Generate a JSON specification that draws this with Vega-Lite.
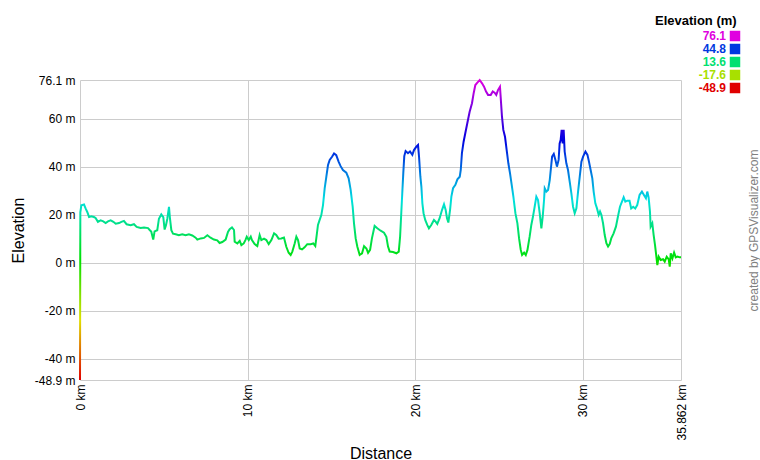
{
  "$schema": "https://vega.github.io/schema/vega-lite/v6.json",
  "width": 601,
  "height": 300,
  "autosize": {"type": "none"},
  "padding": {"left": 80, "top": 80, "right": 79, "bottom": 80},
  "background": "white",
  "config": {"view": {"stroke": null}, "font": "Liberation Sans"},
  "datasets": {
    "profile": [
      {"d":0,"e":-48.9},{"d":0.02,"e":21},{"d":0.08,"e":23.9},{"d":0.24,"e":24.2},{"d":0.34,"e":22.5},{"d":0.44,"e":21},{"d":0.54,"e":19},{"d":0.68,"e":19.3},{"d":0.83,"e":19},{"d":0.93,"e":18.6},
      {"d":1.07,"e":17},{"d":1.23,"e":17.6},{"d":1.39,"e":17.2},{"d":1.53,"e":16.5},{"d":1.67,"e":17.2},{"d":1.83,"e":17.6},{"d":1.99,"e":17},{"d":2.13,"e":16.2},{"d":2.33,"e":16.5},{"d":2.47,"e":17},
      {"d":2.62,"e":17.4},{"d":2.78,"e":16},{"d":3.02,"e":15.6},{"d":3.22,"e":16},{"d":3.38,"e":14.9},{"d":3.62,"e":14.4},{"d":3.82,"e":14.6},{"d":4.06,"e":14.4},{"d":4.17,"e":13.5},{"d":4.25,"e":13},
      {"d":4.37,"e":9.6},{"d":4.45,"e":13},{"d":4.61,"e":13.5},{"d":4.71,"e":18.3},{"d":4.85,"e":20.1},{"d":4.97,"e":19},{"d":5.05,"e":13.8},{"d":5.13,"e":15.6},{"d":5.21,"e":18.3},{"d":5.31,"e":23.2},
      {"d":5.37,"e":18.3},{"d":5.45,"e":13.5},{"d":5.55,"e":12.1},{"d":5.71,"e":11.8},{"d":5.9,"e":11.4},{"d":6.1,"e":11.8},{"d":6.3,"e":11.4},{"d":6.5,"e":11.8},{"d":6.7,"e":11.3},{"d":6.9,"e":10.4},
      {"d":7.0,"e":9.6},{"d":7.2,"e":10.1},{"d":7.4,"e":10.3},{"d":7.6,"e":11.4},{"d":7.79,"e":10.4},{"d":7.99,"e":9.6},{"d":8.19,"e":9.3},{"d":8.33,"e":8.2},{"d":8.49,"e":8.6},{"d":8.69,"e":9.6},
      {"d":8.83,"e":12.8},{"d":8.93,"e":13.9},{"d":9.07,"e":14.7},{"d":9.19,"e":13.6},{"d":9.23,"e":8.7},{"d":9.39,"e":8.0},{"d":9.53,"e":9.1},{"d":9.63,"e":7.3},{"d":9.77,"e":8.0},{"d":9.87,"e":9.4},
      {"d":9.95,"e":10.8},{"d":10.07,"e":9.4},{"d":10.19,"e":10.8},{"d":10.26,"e":9.4},{"d":10.42,"e":7.7},{"d":10.58,"e":6.9},{"d":10.72,"e":11.5},{"d":10.82,"e":9.4},{"d":10.98,"e":10},{"d":11.12,"e":9.4},
      {"d":11.26,"e":7.7},{"d":11.42,"e":9.4},{"d":11.58,"e":12.2},{"d":11.71,"e":11.5},{"d":11.85,"e":10},{"d":12.01,"e":10.1},{"d":12.17,"e":10.5},{"d":12.31,"e":6.6},{"d":12.45,"e":4.1},{"d":12.57,"e":3.2},
      {"d":12.67,"e":4.6},{"d":12.81,"e":8.0},{"d":12.91,"e":10.8},{"d":13.01,"e":9.4},{"d":13.11,"e":5.9},{"d":13.25,"e":5.5},{"d":13.4,"e":6.4},{"d":13.56,"e":7.7},{"d":13.76,"e":7.7},{"d":13.92,"e":8.0},
      {"d":14.04,"e":6.9},{"d":14.1,"e":10.1},{"d":14.2,"e":15.7},{"d":14.3,"e":17.8},{"d":14.4,"e":19.8},{"d":14.5,"e":24},{"d":14.6,"e":30.9},{"d":14.7,"e":35.8},{"d":14.8,"e":40.7},{"d":14.9,"e":42.8},
      {"d":15.04,"e":44.1},{"d":15.16,"e":45.5},{"d":15.29,"e":44.8},{"d":15.43,"e":42.1},{"d":15.55,"e":40.2},{"d":15.69,"e":38.6},{"d":15.89,"e":37.5},{"d":16.03,"e":35.1},{"d":16.15,"e":30.3},{"d":16.27,"e":23.3},
      {"d":16.35,"e":16.4},{"d":16.45,"e":10.1},{"d":16.55,"e":6.6},{"d":16.69,"e":3.2},{"d":16.83,"e":3.9},{"d":16.95,"e":6.9},{"d":17.09,"e":5.9},{"d":17.19,"e":4.1},{"d":17.31,"e":5.3},{"d":17.42,"e":10.1},
      {"d":17.58,"e":15.3},{"d":17.74,"e":14.3},{"d":17.94,"e":13.3},{"d":18.14,"e":12.5},{"d":18.28,"e":10.8},{"d":18.38,"e":6.7},{"d":18.48,"e":4.6},{"d":18.68,"e":4.4},{"d":18.88,"e":3.9},{"d":19.02,"e":4.6},
      {"d":19.1,"e":10.8},{"d":19.17,"e":20.6},{"d":19.23,"e":28.9},{"d":19.29,"e":37.2},{"d":19.35,"e":44.4},{"d":19.43,"e":46.5},{"d":19.57,"e":45.6},{"d":19.69,"e":46.3},{"d":19.83,"e":44.9},{"d":19.93,"e":46.9},
      {"d":20.07,"e":48.3},{"d":20.17,"e":49},{"d":20.23,"e":44.2},{"d":20.31,"e":35.8},{"d":20.37,"e":31.7},{"d":20.43,"e":24.7},{"d":20.5,"e":20.6},{"d":20.6,"e":17.8},{"d":20.72,"e":15.7},{"d":20.82,"e":14.3},
      {"d":20.96,"e":15.7},{"d":21.12,"e":17.8},{"d":21.22,"e":17.1},{"d":21.32,"e":16.1},{"d":21.46,"e":18.5},{"d":21.6,"e":21.9},{"d":21.72,"e":24.3},{"d":21.82,"e":21.9},{"d":21.9,"e":18.5},{"d":21.98,"e":16.7},
      {"d":22.08,"e":21.9},{"d":22.16,"e":27.5},{"d":22.26,"e":31},{"d":22.4,"e":32.4},{"d":22.52,"e":34.7},{"d":22.66,"e":35.8},{"d":22.72,"e":38.6},{"d":22.79,"e":45.6},{"d":22.89,"e":50.4},{"d":22.99,"e":53.9},
      {"d":23.11,"e":58.1},{"d":23.25,"e":62.9},{"d":23.39,"e":66.4},{"d":23.49,"e":70.6},{"d":23.59,"e":74},{"d":23.71,"e":75},{"d":23.85,"e":76.1},{"d":23.99,"e":74.7},{"d":24.11,"e":73.3},{"d":24.23,"e":71.3},
      {"d":24.35,"e":69.9},{"d":24.51,"e":69.9},{"d":24.63,"e":71.3},{"d":24.74,"e":70.8},{"d":24.84,"e":69.9},{"d":24.94,"e":71.9},{"d":25.06,"e":73.3},{"d":25.1,"e":69.2},{"d":25.18,"e":60.8},{"d":25.26,"e":55.3},
      {"d":25.36,"e":52.5},{"d":25.46,"e":46.9},{"d":25.56,"e":41.4},{"d":25.66,"e":37.2},{"d":25.76,"e":32.4},{"d":25.86,"e":27.5},{"d":25.98,"e":20.6},{"d":26.1,"e":16.4},{"d":26.2,"e":10.1},{"d":26.3,"e":5.3},
      {"d":26.38,"e":3.2},{"d":26.5,"e":4.2},{"d":26.6,"e":3.2},{"d":26.7,"e":5.3},{"d":26.83,"e":10.8},{"d":26.93,"e":15.7},{"d":27.03,"e":19.2},{"d":27.13,"e":23.3},{"d":27.23,"e":27.5},{"d":27.33,"e":26.1},
      {"d":27.43,"e":20.6},{"d":27.53,"e":14.3},{"d":27.61,"e":19.2},{"d":27.69,"e":26.1},{"d":27.73,"e":31},{"d":27.83,"e":29.6},{"d":27.93,"e":30.3},{"d":28.03,"e":34.4},{"d":28.09,"e":38.6},{"d":28.17,"e":44.2},
      {"d":28.27,"e":45.3},{"d":28.37,"e":42.8},{"d":28.46,"e":40},{"d":28.56,"e":42.8},{"d":28.62,"e":49.7},{"d":28.68,"e":51.1},{"d":28.74,"e":55.3},{"d":28.8,"e":49.7},{"d":28.86,"e":55.3},{"d":28.92,"e":46.3},
      {"d":29.02,"e":41.4},{"d":29.12,"e":38.6},{"d":29.22,"e":33.8},{"d":29.32,"e":28.9},{"d":29.42,"e":23.3},{"d":29.52,"e":20.6},{"d":29.62,"e":22.6},{"d":29.72,"e":29.6},{"d":29.82,"e":35.8},{"d":29.92,"e":42.1},
      {"d":30.02,"e":44.2},{"d":30.16,"e":46.3},{"d":30.28,"e":44.9},{"d":30.37,"e":42.1},{"d":30.47,"e":38.6},{"d":30.57,"e":35.1},{"d":30.65,"e":29.6},{"d":30.75,"e":24.7},{"d":30.85,"e":22.6},{"d":30.95,"e":19.9},
      {"d":31.03,"e":21.3},{"d":31.11,"e":19.9},{"d":31.21,"e":16.4},{"d":31.31,"e":11.5},{"d":31.41,"e":8.1},{"d":31.51,"e":6.7},{"d":31.61,"e":7.8},{"d":31.7,"e":10.1},{"d":31.84,"e":12.2},{"d":31.98,"e":15},
      {"d":32.1,"e":19.2},{"d":32.22,"e":23.3},{"d":32.34,"e":25.4},{"d":32.44,"e":27.2},{"d":32.54,"e":25.4},{"d":32.66,"e":25.8},{"d":32.79,"e":25.8},{"d":32.89,"e":22.6},{"d":33.01,"e":23.3},{"d":33.13,"e":22.6},
      {"d":33.25,"e":24},{"d":33.39,"e":28.2},{"d":33.53,"e":29.6},{"d":33.65,"e":28.2},{"d":33.77,"e":26.8},{"d":33.85,"e":29.6},{"d":33.93,"e":27.2},{"d":34.01,"e":21.3},{"d":34.05,"e":15},{"d":34.15,"e":16.4},
      {"d":34.23,"e":11.5},{"d":34.31,"e":7.4},{"d":34.37,"e":3.9},{"d":34.45,"e":-1},{"d":34.53,"e":2.5},{"d":34.65,"e":1.1},{"d":34.79,"e":1.4},{"d":34.89,"e":0.4},{"d":35.01,"e":2.5},{"d":35.13,"e":1.4},
      {"d":35.19,"e":-1.7},{"d":35.25,"e":3.9},{"d":35.35,"e":1.8},{"d":35.45,"e":4.2},{"d":35.55,"e":2.2},{"d":35.65,"e":2.5},{"d":35.79,"e":2.2},{"d":35.862,"e":2.2}
    ],
    "leg": [
      {"lab":"76.1","e":76.1},
      {"lab":"44.8","e":44.8},
      {"lab":"13.6","e":13.6},
      {"lab":"-17.6","e":-17.6},
      {"lab":"-48.9","e":-48.9}
    ]
  },
  "layer": [
    {
      "data": {"name": "profile"},
      "mark": {
        "type": "line",
        "strokeWidth": 2,
        "color": {
          "gradient": "linear",
          "x1": 0, "y1": 1, "x2": 0, "y2": 0,
          "stops": [
            {"offset": 0, "color": "#e00000"},
            {"offset": 0.1, "color": "#e07000"},
            {"offset": 0.2, "color": "#e0e000"},
            {"offset": 0.3, "color": "#70e000"},
            {"offset": 0.4, "color": "#00e000"},
            {"offset": 0.5, "color": "#00e070"},
            {"offset": 0.6, "color": "#00e0e0"},
            {"offset": 0.7, "color": "#0070e0"},
            {"offset": 0.8, "color": "#0000e0"},
            {"offset": 0.9, "color": "#7000e0"},
            {"offset": 1, "color": "#e000e0"}
          ]
        }
      },
      "encoding": {
        "x": {
          "field": "d", "type": "quantitative",
          "scale": {"domain": [0, 35.862], "nice": false, "zero": false},
          "axis": {
            "title": "Distance",
            "values": [0, 10, 20, 30, 35.862],
            "labelExpr": "datum.value + ' km'",
            "labelAngle": 270,
            "labelFlush": false,
            "labelOverlap": false,
            "grid": true, "gridColor": "#cccccc", "gridWidth": 1,
            "ticks": false, "domain": false,
            "labelPadding": 4, "labelFontSize": 12, "labelColor": "#000000", "labelFont": "Liberation Sans",
            "titleFontSize": 16, "titleFontWeight": "normal", "titleColor": "#000000", "titleFont": "Liberation Sans",
            "titleY": 78, "titleBaseline": "alphabetic"
          }
        },
        "y": {
          "field": "e", "type": "quantitative",
          "scale": {"domain": [-48.9, 76.1], "nice": false, "zero": false},
          "axis": {
            "title": "Elevation",
            "values": [-48.9, -40, -20, 0, 20, 40, 60, 76.1],
            "labelExpr": "datum.value + ' m'",
            "labelOverlap": false,
            "labelFlush": false,
            "grid": true, "gridColor": "#cccccc", "gridWidth": 1,
            "ticks": false, "domain": false,
            "labelPadding": 5, "labelFontSize": 12, "labelColor": "#000000", "labelFont": "Liberation Sans",
            "titleFontSize": 16, "titleFontWeight": "normal", "titleColor": "#000000", "titleFont": "Liberation Sans",
            "titleX": -57, "titleBaseline": "alphabetic"
          }
        }
      }
    },
    {
      "data": {"name": "leg"},
      "mark": {"type": "square", "opacity": 0},
      "encoding": {
        "y": {
          "field": "e", "type": "quantitative",
          "scale": {"domain": [-48.9, 76.1], "nice": false, "zero": false},
          "axis": {
            "orient": "right",
            "title": "created by GPSVisualizer.com",
            "labels": false, "ticks": false, "domain": false, "grid": false,
            "titleAngle": 270,
            "titleColor": "#808080", "titleFontSize": 12, "titleFontWeight": "normal", "titleFont": "Liberation Sans",
            "titleX": 76, "titleBaseline": "alphabetic"
          }
        },
        "color": {
          "field": "lab", "type": "nominal",
          "scale": {
            "domain": ["76.1", "44.8", "13.6", "-17.6", "-48.9"],
            "range": ["#e000e0", "#0038e0", "#00e070", "#a8e000", "#e00000"]
          },
          "legend": {
            "orient": "none",
            "legendX": 575,
            "legendY": -65,
            "title": "Elevation (m)",
            "titleFontSize": 13, "titleFontWeight": "bold", "titleColor": "#000000", "titleFont": "Liberation Sans",
            "titlePadding": 2,
            "symbolType": "square", "symbolSize": 110, "symbolStrokeWidth": 0, "symbolOpacity": 1,
            "labelFontSize": 12, "labelFontWeight": "bold", "labelFont": "Liberation Sans", "labelAlign": "right",
            "rowPadding": 1,
            "padding": 0,
            "encode": {
              "labels": {"update": {"x": {"value": 71}, "fill": {"scale": "color", "field": "value"}}},
              "symbols": {"update": {"x": {"value": 80}}}
            }
          }
        }
      }
    }
  ],
  "resolve": {"axis": {"y": "independent"}}
}
